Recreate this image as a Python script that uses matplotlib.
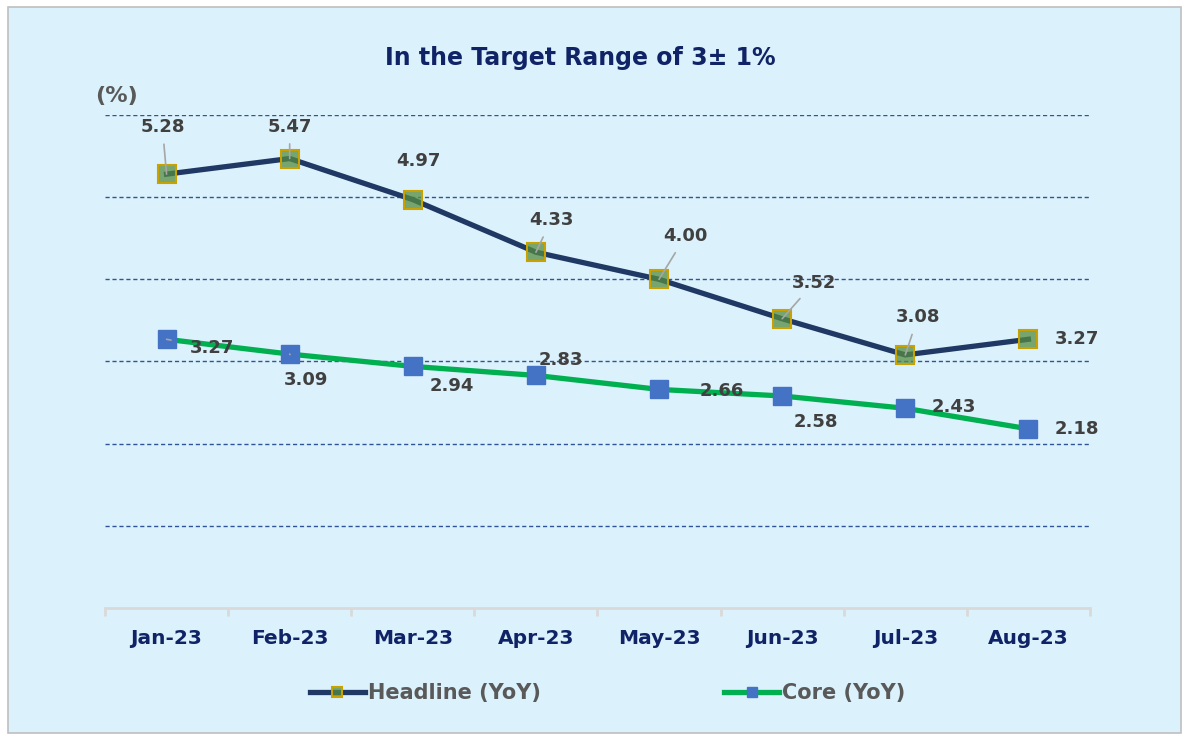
import matplotlib.pyplot as plt
from matplotlib.patches import Rectangle

# datos
months = ['Jan-23', 'Feb-23', 'Mar-23', 'Apr-23', 'May-23', 'Jun-23', 'Jul-23', 'Aug-23']
headline = [5.28, 5.47, 4.97, 4.33, 4.00, 3.52, 3.08, 3.27]
core = [3.27, 3.09, 2.94, 2.83, 2.66, 2.58, 2.43, 2.18]

# desplazamientos de etiquetas (puntos) y si llevan línea guía
head_off = [(-3, 34), (0, 23), (4, 28), (11, 23), (19, 31), (23, 26), (9, 27), (35, 0)]
head_lead = [True, True, False, True, True, True, True, False]
core_off = [(33, -6), (12, -19), (28, -14), (18, 11), (45, -1), (24, -19), (35, 1), (35, 0)]
core_lead = [True, True, False, False, False, False, False, False]

bg = '#DBF1FB'
navy = '#0F2366'
gray_txt = '#404040'

fig = plt.figure(figsize=(11.89, 7.38), dpi=100, facecolor='white')
fig.patches.append(Rectangle((0.007, 0.007), 0.986, 0.983, transform=fig.transFigure,
                             facecolor=bg, edgecolor='#BFBFBF', linewidth=1.2, zorder=-1))

ax = fig.add_axes([0.0883, 0.1762, 0.8284, 0.668])
ax.set_facecolor(bg)
x = list(range(len(months)))

ax.plot(x, headline, color='#1F3864', linewidth=3.8, marker='s', markersize=13,
        markerfacecolor=(0.33, 0.55, 0.25, 0.75), markeredgecolor='#C9A100',
        markeredgewidth=1.5, label='Headline (YoY)', zorder=3)
ax.plot(x, core, color='#00B050', linewidth=3.8, marker='s', markersize=13,
        markerfacecolor='#4472C4', markeredgecolor='#4472C4',
        label='Core (YoY)', zorder=3)

for i in x:
    ap = dict(arrowstyle='-', color='#A6A6A6', lw=1.2, shrinkA=4, shrinkB=0) if head_lead[i] else None
    ax.annotate(f'{headline[i]:.2f}', (i, headline[i]), xytext=head_off[i],
                textcoords='offset points', ha='center', va='center',
                fontsize=13, fontweight='bold', color=gray_txt, arrowprops=ap, zorder=4)
    ap = dict(arrowstyle='-', color='#A6A6A6', lw=1.2, shrinkA=12, shrinkB=0) if core_lead[i] else None
    ax.annotate(f'{core[i]:.2f}', (i, core[i]), xytext=core_off[i],
                textcoords='offset points', ha='center', va='center',
                fontsize=13, fontweight='bold', color=gray_txt, arrowprops=ap, zorder=4)

ax.set_xlim(-0.5, 7.5)
ax.set_ylim(0, 6)
ax.set_yticks([1, 2, 3, 4, 5, 6])
ax.yaxis.grid(True, linestyle=(0, (3, 2)), color='#2F5597', linewidth=1)
ax.tick_params(axis='y', left=False, labelleft=False)
for s in ['top', 'right', 'left']:
    ax.spines[s].set_visible(False)
ax.spines['bottom'].set_color('#D9D9D9')
ax.spines['bottom'].set_linewidth(2)

ax.set_xticks(x)
ax.set_xticklabels(months, fontsize=14.5, fontweight='bold', color=navy)
ax.set_xticks([i - 0.5 for i in range(len(months) + 1)], minor=True)
ax.tick_params(axis='x', which='major', length=0, pad=15)
ax.tick_params(axis='x', which='minor', length=6, width=2, color='#D9D9D9')
ax.set_axisbelow(True)

fig.text(0.488, 0.922, 'In the Target Range of 3\u00b1 1%', ha='center', va='center',
         fontsize=17, fontweight='bold', color=navy)
fig.text(0.098, 0.87, '(%)', ha='center', va='center', fontsize=16,
         fontweight='bold', color='#595959')

leg = fig.legend(loc='center', bbox_to_anchor=(0.511, 0.061), ncol=2, frameon=False,
                 columnspacing=8.8, handlelength=2.65, handletextpad=0.15, markerscale=0.6,
                 prop={'size': 15, 'weight': 'bold'})
for t in leg.get_texts():
    t.set_color('#595959')

fig.savefig('out.png', dpi=100, facecolor='white')
